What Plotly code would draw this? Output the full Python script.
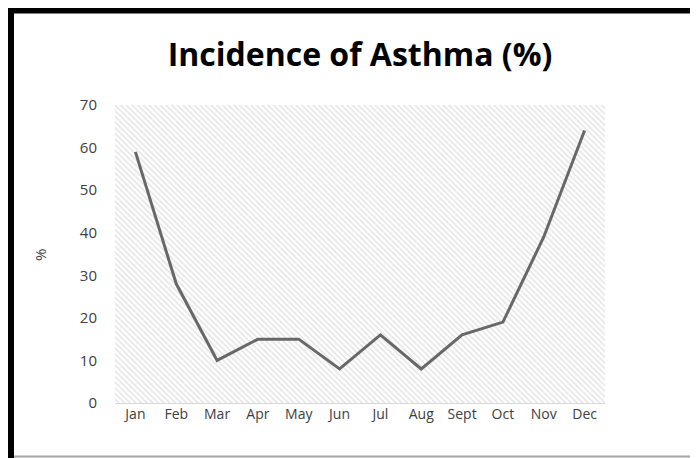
import plotly.graph_objects as go

months = ["Jan", "Feb", "Mar", "Apr", "May", "Jun", "Jul", "Aug", "Sept", "Oct", "Nov", "Dec"]
incidence = [59, 28, 10, 15, 15, 8, 16, 8, 16, 19, 39, 64]
y_ticks = [0, 10, 20, 30, 40, 50, 60, 70]

# figure is drawn 8px in from the page corner (browser body margin)
W, H = 690, 450
L, R, T, B = 107, 93, 97, 55
pw, ph = W - L - R, H - T - B

def px(x):
    return (x - L) / pw

def py(y):
    return (H - B - y) / ph

fig = go.Figure()

# hatched plot-area background (drawn on the bottom axes pair)
fig.add_trace(go.Bar(
    x=[0.5], y=[1], width=[1], xaxis="x", yaxis="y",
    marker=dict(color="white", line=dict(width=0),
                pattern=dict(shape="\\", fgcolor="#cccccc", bgcolor="white", size=4, solidity=0.4)),
    hoverinfo="skip", showlegend=False,
))

fig.add_trace(go.Scatter(
    x=months, y=incidence, mode="lines", xaxis="x2", yaxis="y2",
    line=dict(color="#686868", width=3),
    showlegend=False,
))

fig.update_layout(
    width=W, height=H,
    margin=dict(l=L, r=R, t=T, b=B, autoexpand=False),
    paper_bgcolor="white", plot_bgcolor="white",
    font=dict(family="Open Sans", color="#404040", size=14),
    title=dict(text="<b>Incidence of Asthma (%)</b>", x=0.5, xref="paper", xanchor="center",
               y=1 - 47 / H, yanchor="middle",
               font=dict(family="Open Sans", size=32, color="black")),
    xaxis=dict(range=[0, 1], visible=False, fixedrange=True),
    yaxis=dict(range=[0, 1], visible=False, fixedrange=True),
    xaxis2=dict(type="category", overlaying="x", range=[-0.5, 11.5], showgrid=False, showline=True,
                linecolor="#d9d9d9", linewidth=1, ticks="", side="bottom", ticklabelstandoff=-2,
                tickfont=dict(size=14, color="#404040"), zeroline=False),
    yaxis2=dict(overlaying="y", range=[0, 70], tickvals=y_ticks, showgrid=False, showline=False,
                zeroline=False, ticks="", side="left", ticklabelstandoff=17,
                tickfont=dict(size=15, color="#404040")),
    bargap=0,
)

fig.add_annotation(text="%", xref="paper", yref="paper", x=px(32), y=py(255 - 8),
                   showarrow=False, textangle=-90, font=dict(size=15, color="#404040"),
                   xanchor="center", yanchor="middle")

# chart frame
fig.add_shape(type="line", xref="paper", yref="paper", x0=px(3), x1=px(760), y0=py(2.5), y1=py(2.5),
              line=dict(color="black", width=6))
fig.add_shape(type="line", xref="paper", yref="paper", x0=px(3), x1=px(3), y0=py(-0.5), y1=py(470),
              line=dict(color="black", width=6))
fig.add_shape(type="line", xref="paper", yref="paper", x0=px(6), x1=px(760), y0=py(448.5), y1=py(448.5),
              line=dict(color="#a6a6a6", width=2))

fig.write_html("out.html")
